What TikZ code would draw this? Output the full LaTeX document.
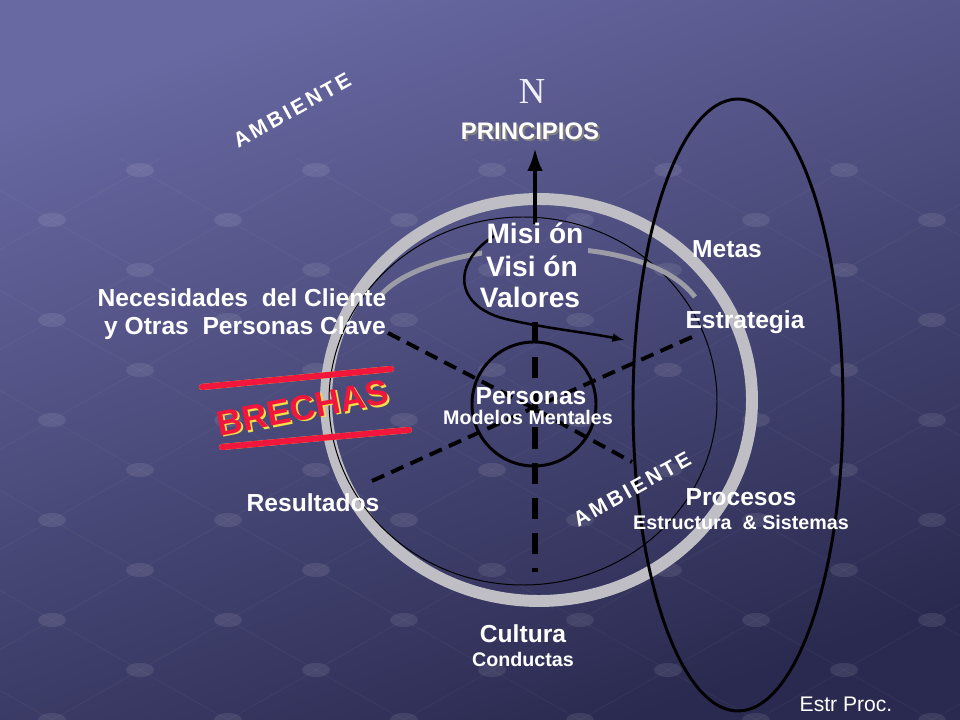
\documentclass[tikz,border=0pt]{standalone}
\usepackage{fontspec}
\usetikzlibrary{arrows.meta}
\setmainfont{Liberation Sans}
\setsansfont{Liberation Sans}
\newfontfamily\serifN{Liberation Serif}
\newfontfamily\spacedfont[LetterSpace=14]{Liberation Sans}
\definecolor{bgtop}{HTML}{6868A2}
\definecolor{bgmid}{HTML}{4C4C7E}
\definecolor{bgbot}{HTML}{2A2A50}
\definecolor{ringgray}{HTML}{BEBEC4}
\definecolor{arcgray}{HTML}{9C9CA6}
\definecolor{brred}{HTML}{F0163C}
\definecolor{bryellow}{HTML}{F2E04A}
\tikzset{>=latex,
  lbl/.style={text=white,font=\bfseries\fontsize{17.5}{20}\selectfont,inner sep=0pt},
  sublbl/.style={text=white,font=\bfseries\fontsize{14}{16}\selectfont,inner sep=0pt},
  biglbl/.style={text=white,font=\bfseries\fontsize{20}{24}\selectfont,inner sep=0pt},
  amb/.style={text=white,font=\spacedfont\bfseries\fontsize{15}{18}\selectfont,rotate=29,inner sep=0pt},
  brlbl/.style={font=\bfseries\fontsize{25}{28}\selectfont,rotate=11,inner sep=0pt},
  spoke/.style={line width=2.8pt,dash pattern=on 9.5pt off 5.5pt},
  axisdash/.style={line width=4.3pt,dash pattern=on 15pt off 10pt},
  northarrow/.style={-{Latex[length=17pt,width=11pt]},line width=3.5pt},
  bar/.style={line width=4.3pt,line cap=round},
  dot/.style={white,opacity=.09},
  gridln/.style={white,opacity=.04,line width=.6pt},
}
\begin{document}
\begin{tikzpicture}[x=0.025cm,y=-0.025cm]
  \useasboundingbox (0,0) rectangle (960,720);
  \shade[top color=bgtop,middle color=bgmid,bottom color=bgbot,shading angle=20] (0,0) rectangle (960,720);
  \begin{scope}
    \clip (0,160) rectangle (960,720);
    \foreach\J in {-4,...,10} {\draw[gridln] ({52+88*(\J-6)},{520+50*(-6-\J)}) -- ({52+88*(\J+10)},{520+50*(10-\J)});}
    \foreach\I in {-5,...,8} {\draw[gridln] ({52+88*(\I-6)},{520+50*(\I+6)}) -- ({52+88*(\I+10)},{520+50*(\I-10)});}
    \foreach\I in {-5,...,8} {%
      \foreach\J in {-4,...,10} {\fill[dot] ({52+88*(\I+\J)},{520+50*(\I-\J)}) ellipse (14 and 7);}
    }
  \end{scope}

  \coordinate (ringc) at (539,400);
  \coordinate (thinc) at (523,401);
  \coordinate (cen)   at (533,408);
  \draw[ringgray,line width=8.5pt] (ringc) ellipse (213 and 201);
  \draw[line width=.7pt] (thinc) ellipse (194 and 184);
  \begin{scope}
    \clip (0,0) rectangle (482,720) (588,0) rectangle (960,720);
    \draw[arcgray,line width=3.5pt] (382,294) .. controls (430,240) and (640,225) .. (695,297);
  \end{scope}

  \coordinate (nw) at (388,333);
  \coordinate (se) at (632,462);
  \coordinate (sw) at (372,481);
  \coordinate (ne) at (692,337);
  \draw[spoke] (nw) -- (cen) -- (se);
  \draw[spoke] (sw) -- (cen) -- (ne);
  \coordinate (vt) at (535,322);
  \coordinate (vb) at (535,572);
  \draw[axisdash,white,xshift=1.5pt] (vt) -- (vb);
  \draw[axisdash] (vt) -- (vb);
  \draw[line width=2.1pt] (cen) ++(1,-4) circle (62);

  \coordinate (spst)  at (494,236);
  \coordinate (spend) at (624,340);
  \draw[->,line width=1.8pt] (spst) .. controls (452,262) and (452,308) .. (510,320) .. controls (550,329) and (590,333) .. (spend);
  \coordinate (arrbot) at (535,224);
  \coordinate (arrtop) at (535,147);
  \draw[northarrow] (arrbot) -- (arrtop);

  \draw[line width=2.1pt] (738,405) ellipse (105 and 306);

  \coordinate (bar1a) at (202,387);
  \coordinate (bar1b) at (391,369);
  \coordinate (bar2a) at (222,447);
  \coordinate (bar2b) at (409,430);
  \draw[bar,bryellow,yshift=-1.5pt] (bar1a) -- (bar1b);
  \draw[bar,brred] (bar1a) -- (bar1b);
  \draw[bar,bryellow,yshift=-1.5pt] (bar2a) -- (bar2b);
  \draw[bar,brred] (bar2a) -- (bar2b);
  \node[brlbl,text=bryellow] at (304.5,409.5) {BRECHAS};
  \node[brlbl,text=brred] (brechas) at (303,408) {BRECHAS};

  \node[text=white!94!blue,font=\serifN\fontsize{26}{30}\selectfont,inner sep=0pt] (norte) at (532,92) {N};
  \node[text=gray,font=\bfseries\fontsize{17}{20}\selectfont,inner sep=0pt] at (532,133) {PRINCIPIOS};
  \node[text=white,font=\bfseries\fontsize{17}{20}\selectfont,inner sep=0pt] (principios) at (530,131) {PRINCIPIOS};
  \node[amb] (amb1) at (292,110) {AMBIENTE};
  \node[amb] (amb2) at (632,489) {AMBIENTE};

  \node[biglbl] (mision)  at (535,233) {Misi ón};
  \node[biglbl] (vision)  at (532,266) {Visi ón};
  \node[biglbl] (valores) at (530,297) {Valores};
  \node[lbl] (metas) at (727,249) {Metas};
  \node[lbl] (estrategia) at (745,322) {Estrategia};
  \node[lbl] (necesidades) at (242,298) {Necesidades\ \ del Cliente};
  \node[lbl] (clave) at (245,328) {y Otras\ \ Personas Clave};
  \node[lbl] (personas) at (531,396) {Personas};
  \node[sublbl] (modelos) at (528,417) {Modelos Mentales};
  \node[lbl] (resultados) at (313,503) {Resultados};
  \node[lbl] (procesos) at (741,497) {Procesos};
  \node[sublbl] (estructura) at (741,522) {Estructura\ \ \& Sistemas};
  \node[lbl] (cultura) at (523,634) {Cultura};
  \node[sublbl] (conductas) at (523,659) {Conductas};
  \node[text=white,font=\fontsize{15}{18}\selectfont,inner sep=0pt] (estrproc) at (846,704) {Estr Proc.};
\end{tikzpicture}
\end{document}
